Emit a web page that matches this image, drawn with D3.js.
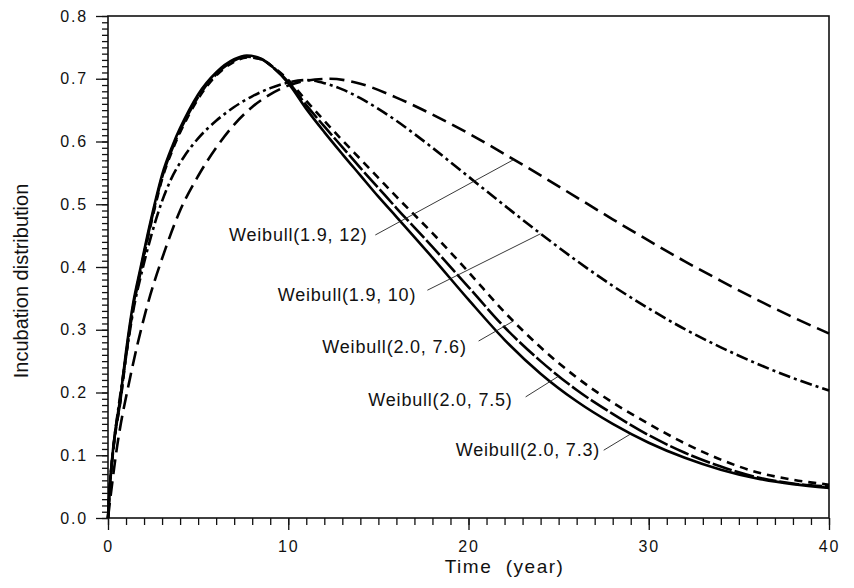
<!DOCTYPE html>
<html>
<head>
<meta charset="utf-8">
<script src="https://cdn.jsdelivr.net/npm/d3@7"></script>
<style>
  body { margin: 0; background: #fff; }
  text { font-family: "Liberation Sans", Arial, sans-serif; fill: #111; }
</style>
</head>
<body>
<script>

// values, [time, value]
let w20_73 = [[0,0],[0.1,0.05],[0.3,0.115],[0.7,0.195],[1.0,0.265],[1.4,0.343],[1.8,0.398],[2.2,0.452],[2.6,0.502],[3.0,0.547],[3.6,0.595],[4.5,0.65],[5.0,0.675],[6.0,0.71],[7.0,0.731],[7.7,0.737],[8.5,0.732],[9.2,0.717],[10,0.693],[11,0.652],[12,0.615],[13,0.58],[14,0.546],[15,0.512],[16,0.48],[18,0.415],[20,0.348],[22,0.284],[24,0.23],[26,0.186],[28,0.15],[30,0.12],[32,0.096],[34,0.077],[36,0.063],[38,0.054],[40,0.048]];

let w20_75 = [[0,0],[0.1,0.048],[0.3,0.112],[0.7,0.19],[1.0,0.26],[1.4,0.338],[1.8,0.394],[2.2,0.448],[2.6,0.498],[3.0,0.543],[3.6,0.591],[4.5,0.646],[5.0,0.671],[6.0,0.707],[7.0,0.729],[7.7,0.735],[8.5,0.731],[9.2,0.717],[10,0.695],[11,0.658],[12,0.624],[13,0.591],[14,0.558],[15,0.526],[16,0.494],[18,0.432],[20,0.368],[22,0.304],[24,0.25],[26,0.204],[28,0.166],[30,0.132],[32,0.104],[34,0.082],[36,0.065],[38,0.055],[40,0.05]];

let w20_76 = [[0,0],[0.1,0.047],[0.3,0.11],[0.7,0.188],[1.0,0.257],[1.4,0.335],[1.8,0.391],[2.2,0.445],[2.6,0.495],[3.0,0.54],[3.6,0.588],[4.5,0.643],[5.0,0.668],[6.0,0.705],[7.0,0.727],[7.7,0.734],[8.5,0.731],[9.2,0.718],[10,0.698],[11,0.665],[12,0.633],[13,0.602],[14,0.572],[15,0.542],[16,0.512],[18,0.454],[20,0.392],[22,0.328],[24,0.272],[26,0.224],[28,0.184],[30,0.15],[32,0.119],[34,0.093],[36,0.073],[38,0.061],[40,0.053]];

let w19_10 = [[0,0],[0.1,0.05],[0.3,0.112],[0.7,0.2],[1.0,0.258],[1.4,0.33],[1.9,0.395],[2.4,0.45],[3,0.505],[3.5,0.54],[4.2,0.575],[5,0.605],[6,0.633],[7,0.655],[8,0.672],[9,0.685],[10,0.694],[11,0.698],[12,0.693],[13,0.683],[14,0.669],[15,0.652],[16,0.633],[17,0.612],[18,0.59],[20,0.544],[22,0.498],[24,0.453],[26,0.41],[28,0.37],[30,0.334],[32,0.301],[34,0.272],[36,0.246],[38,0.223],[40,0.203]];

let w19_12 = [[0,0],[0.5,0.113],[1.2,0.22],[2.1,0.33],[3.2,0.43],[4,0.49],[5,0.545],[6,0.59],[7,0.627],[8,0.655],[9,0.675],[10,0.689],[11,0.697],[12.3,0.7],[14,0.692],[16,0.67],[18,0.643],[20,0.613],[22,0.58],[24,0.546],[26,0.511],[28,0.476],[30,0.442],[32,0.409],[34,0.378],[36,0.348],[38,0.32],[40,0.294]];

let xTicks = [0, 10, 20, 30, 40];
let yTicks = [0.0, 0.1, 0.2, 0.3, 0.4, 0.5, 0.6, 0.7, 0.8];

// labels with leader lines, in data units: text end, leader start, leader end
let labels = ["Weibull(1.9, 12)", "Weibull(1.9, 10)", "Weibull(2.0, 7.6)", "Weibull(2.0, 7.5)", "Weibull(2.0, 7.3)"];
let labelAt = [[14.4, 0.441], [17.1, 0.346], [19.9, 0.263], [22.45, 0.178], [27.3, 0.099]];
let leadFrom = [[14.83, 0.451], [17.72, 0.363], [20.56, 0.282], [23.17, 0.193], [27.5, 0.108]];
let leadTo = [[22.5, 0.571], [24.0, 0.453], [22.5, 0.314], [25.0, 0.226], [29.0, 0.134]];

let canvasW = 854;
let canvasH = 588;

let xScale = d3.scaleLinear().domain([0, 40]).range([108, 829]);
let yScale = d3.scaleLinear().domain([0, 0.8]).range([518, 16]);

let svg = d3.select("body")
  .append("svg")
    .attr("width", canvasW)
    .attr("height", canvasH)
    .style("background-color", "#fff");

// minor ticks first, then major with labels
let xMinor = svg.append("g").attr("transform", "translate(0,518)")
  .call(d3.axisBottom(xScale).tickValues(d3.range(0, 41, 1)).tickSize(7).tickFormat(""));
let yMinor = svg.append("g").attr("transform", "translate(108,0)")
  .call(d3.axisLeft(yScale).tickValues(d3.range(0, 81, 1).map(d => d / 100)).tickSize(6).tickFormat(""));

let xAxis = svg.append("g").attr("transform", "translate(0,518)")
  .call(d3.axisBottom(xScale).tickValues(xTicks).tickSize(12).tickPadding(11).tickFormat(d3.format("d")));
let yAxis = svg.append("g").attr("transform", "translate(108,0)")
  .call(d3.axisLeft(yScale).tickValues(yTicks).tickSize(12).tickPadding(8).tickFormat(d3.format(".1f")));

svg.selectAll(".domain").remove();
svg.selectAll(".tick line").attr("stroke", "#111").attr("stroke-width", 1.3);
svg.selectAll(".tick text")
  .attr("font-size", "16px")
  .style("letter-spacing", "1.8px")
  .attr("fill", "#111");

// frame
svg.append("rect")
  .attr("x", xScale(0))
  .attr("y", yScale(0.8))
  .attr("width", xScale(40) - xScale(0))
  .attr("height", yScale(0) - yScale(0.8))
  .attr("fill", "none")
  .attr("stroke", "#111")
  .attr("stroke-width", 1.6);

let line = d3.line()
  .x(d => xScale(d[0]))
  .y(d => yScale(d[1]))
  .curve(d3.curveMonotoneX);

let series = [
  { data: w19_12, dash: "15,7" },
  { data: w19_10, dash: "12,4,3,4" },
  { data: w20_76, dash: "8,6" },
  { data: w20_75, dash: "20,3" },
  { data: w20_73, dash: null }
];

svg.selectAll()
  .data(series)
  .enter()
  .append("path")
    .attr("d", d => line(d.data))
    .attr("fill", "none")
    .attr("stroke", "#000")
    .attr("stroke-width", 2.6)
    .attr("stroke-dasharray", d => d.dash);

// leader lines + labels
labels.forEach((t, i) => {
  svg.append("line")
    .attr("x1", xScale(leadFrom[i][0]))
    .attr("y1", yScale(leadFrom[i][1]))
    .attr("x2", xScale(leadTo[i][0]))
    .attr("y2", yScale(leadTo[i][1]))
    .attr("stroke", "#222")
    .attr("stroke-width", 0.9);

  svg.append("text")
    .attr("x", xScale(labelAt[i][0]))
    .attr("y", yScale(labelAt[i][1]))
    .attr("text-anchor", "end")
    .attr("font-size", "18px")
    .style("letter-spacing", "0.8px")
    .text(t);
});

// axis titles
svg.append("text")
  .attr("x", xScale(22))
  .attr("y", 573)
  .attr("text-anchor", "middle")
  .attr("font-size", "19px")
  .style("letter-spacing", "1.5px")
  .style("white-space", "pre")
  .text("Time  (year)");

svg.append("text")
  .attr("text-anchor", "middle")
  .attr("font-size", "20px")
  .attr("transform", "translate(28," + 281 + ") rotate(-90)")
  .text("Incubation distribution");

</script>
</body>
</html>
